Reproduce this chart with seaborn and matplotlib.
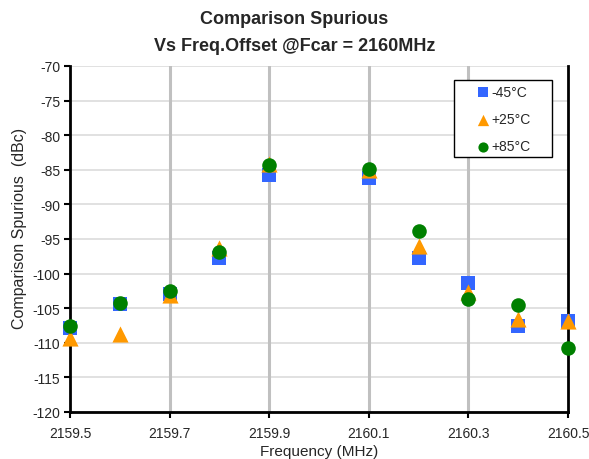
import matplotlib
matplotlib.use("Agg")
import matplotlib.pyplot as plt
from matplotlib.patches import Rectangle
import seaborn as sns
import pandas as pd

# 2160.0 has no measurement
freq_pts = [2159.5, 2159.6, 2159.7, 2159.8, 2159.9, 2160.1, 2160.2, 2160.3, 2160.4, 2160.5]
m45 = [-107.9, -104.4, -103.0, -97.8, -85.8, -86.2, -97.7, -101.4, -107.6, -106.9]
p25 = [-109.3, -108.8, -103.1, -96.3, -84.2, -85.1, -96.0, -102.6, -106.5, -106.8]
p85 = [-107.6, -104.2, -102.5, -96.9, -84.3, -84.9, -93.9, -103.7, -104.5, -110.7]
labels = ["-45°C", "+25°C", "+85°C"]
colors = ["#3366FF", "#FF9900", "#008000"]
markers = ["s", "^", "o"]
xticks = [2159.5, 2159.7, 2159.9, 2160.1, 2160.3, 2160.5]
yticks = list(range(-120, -65, 5))

sns.set_style("white")
plt.rcParams['font.family'] = ['Liberation Sans', 'DejaVu Sans']
plt.rcParams['axes.unicode_minus'] = False

fig = plt.figure(figsize=(5.89, 4.60), dpi=100)
ax = fig.add_axes([70/589, 1-413/460, 498/589, 346/460])

series = [m45, p25, p85]
sizes = [105, 135, 110]
for vals, lab, col, mk, sz in zip(series, labels, colors, markers, sizes):
    df = pd.DataFrame({"f": freq_pts, "v": vals})
    sns.scatterplot(data=df, x="f", y="v", ax=ax, color=col, marker=mk, s=sz,
                    linewidth=0, label=lab, zorder=5, clip_on=False)

ax.set_xlim(2159.5, 2160.5)
ax.set_ylim(-120, -70)
ax.set_xticks(xticks)
ax.set_xticklabels([f"{t:.1f}" for t in xticks])
ax.set_yticks(yticks)

# grid
for y in yticks:
    ax.axhline(y, color="#D9D9D9", lw=1.1, zorder=1)
for x in xticks[1:-1]:
    ax.axvline(x, color="#C0C0C0", lw=2.2, zorder=1)

for s in ["left", "bottom", "right"]:
    ax.spines[s].set_visible(True)
    ax.spines[s].set_color("black")
    ax.spines[s].set_linewidth(2.0)
    ax.spines[s].set_zorder(4)
ax.spines["top"].set_visible(False)

ax.tick_params(axis="both", which="major", direction="out", length=4, width=1.5,
               color="black", labelsize=10, left=True, bottom=True)
ax.tick_params(axis="x", pad=6)
ax.tick_params(axis="y", pad=3)

ax.set_xlabel("Frequency (MHz)", fontsize=11, labelpad=3)
ax.set_ylabel("Comparison Spurious  (dBc)", fontsize=11.5)
ax.yaxis.set_label_coords((27 - 70) / 498, (413 - 228) / 346)

fig.suptitle("Comparison Spurious\nVs Freq.Offset @Fcar = 2160MHz", fontsize=13,
             fontweight="bold", y=0.975, linespacing=1.75)

# legend box
x0 = (454 - 70) / 498
x1 = (552 - 70) / 498
y0 = (413 - 158) / 346
y1 = (413 - 81) / 346
ax.add_patch(Rectangle((x0, y0), x1 - x0, y1 - y0, transform=ax.transAxes,
                       facecolor="white", edgecolor="black", lw=1.0, zorder=6,
                       clip_on=False))
leg = ax.legend(loc="upper left", bbox_to_anchor=((477 - 70) / 498, (413 - 86) / 346),
                borderaxespad=0, borderpad=0, frameon=False, fontsize=10,
                labelspacing=0.95, markerscale=0.7, handletextpad=0.25,
                handlelength=0.8)
leg.set_zorder(7)

fig.savefig("out.png", dpi=100)
